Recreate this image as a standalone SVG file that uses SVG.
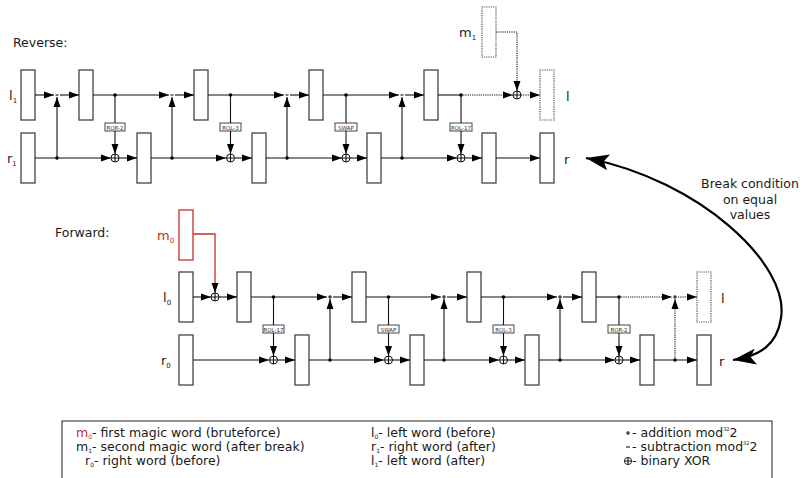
<svg xmlns="http://www.w3.org/2000/svg" width="803" height="478" viewBox="0 0 803 478">
<defs>
<marker id="a" markerUnits="userSpaceOnUse" markerWidth="10" markerHeight="8" refX="10" refY="4" orient="auto"><path d="M0,0.5 L10,4 L0,7.5 z" fill="#000"/></marker>
<marker id="big" markerUnits="userSpaceOnUse" markerWidth="24" markerHeight="16" refX="23" refY="8" orient="auto-start-reverse"><path d="M0,0 L23,8 L0,16 L5,8 z" fill="#000"/></marker>
<style>
.t{font-family:"DejaVu Sans",sans-serif;font-size:12.5px;fill:#1a1a1a}
.lbl{font-family:"DejaVu Sans",sans-serif;font-size:13px;fill:#1a1a1a}
.op{font-family:"DejaVu Sans",sans-serif;font-size:5.5px;fill:#333;text-anchor:middle}
.box{fill:#fff;stroke:#444;stroke-width:1.3}
.dbox{fill:#fff;stroke:#555;stroke-width:1.2;stroke-dasharray:1.2 1}
.obox{fill:#fff;stroke:#555;stroke-width:1.1}
.ln{fill:none;stroke:#111;stroke-width:1.1}
.dl{fill:none;stroke:#111;stroke-width:1.1;stroke-dasharray:1.2 1}
.arr{fill:none;stroke:#111;stroke-width:1.1;marker-end:url(#a)}
.darr{fill:none;stroke:#111;stroke-width:1.1;stroke-dasharray:1.2 1;marker-end:url(#a)}
.x{fill:#fff;stroke:#111;stroke-width:1}
.dot{fill:#000}
.red{fill:#c0302a}
.sub{font-size:7px}
.lsub{font-size:6px}
</style>
</defs>

<!-- Titles -->
<text class="t" x="13" y="47">Reverse:</text>
<text class="t" x="55" y="237">Forward:</text>

<!-- ===== Reverse nodes ===== -->
<g id="rev-l1"><rect class="box" x="21" y="70" width="14" height="50"/><text class="lbl" x="9" y="100">l<tspan class="sub" dy="3">1</tspan></text></g>
<g id="rev-r1"><rect class="box" x="21" y="133" width="14" height="50"/><text class="lbl" x="7" y="163">r<tspan class="sub" dy="3">1</tspan></text></g>
<g id="rev-l-a"><rect class="box" x="79" y="70" width="14" height="50"/></g>
<g id="rev-r-a"><rect class="box" x="137" y="133" width="14" height="50"/></g>
<g id="rev-l-b"><rect class="box" x="194" y="70" width="14" height="50"/></g>
<g id="rev-r-b"><rect class="box" x="252" y="133" width="14" height="50"/></g>
<g id="rev-l-c"><rect class="box" x="309" y="70" width="14" height="50"/></g>
<g id="rev-r-c"><rect class="box" x="367" y="133" width="14" height="50"/></g>
<g id="rev-l-d"><rect class="box" x="424" y="70" width="14" height="50"/></g>
<g id="rev-r-d"><rect class="box" x="482" y="133" width="14" height="50"/></g>
<g id="rev-l-out"><rect class="dbox" x="540" y="70" width="14" height="50"/><text class="lbl" x="566" y="101">l</text></g>
<g id="rev-r-out"><rect class="box" x="540" y="133" width="14" height="50"/><text class="lbl" x="564" y="164">r</text></g>
<g id="rev-m1"><rect class="dbox" x="482" y="7" width="14" height="50"/><text class="lbl" x="459" y="37">m<tspan class="sub" dy="3">1</tspan></text></g>

<g id="rev-op1"><rect class="obox" x="105" y="123" width="20" height="8"/><text class="op" x="115" y="129.5">ROR-2</text></g>
<g id="rev-op2"><rect class="obox" x="220" y="123" width="21" height="8"/><text class="op" x="230.5" y="129.5">ROL-3</text></g>
<g id="rev-op3"><rect class="obox" x="335" y="123" width="22" height="8"/><text class="op" x="346" y="129.5">SWAP</text></g>
<g id="rev-op4"><rect class="obox" x="450" y="123" width="22" height="8"/><text class="op" x="461" y="129.5">ROL-17</text></g>

<!-- ===== Forward nodes ===== -->
<g id="fwd-m0"><rect x="179" y="210" width="14" height="50" fill="#fff" stroke="#c0302a" stroke-width="1.3"/><text class="lbl red" x="157" y="240">m<tspan class="sub" dy="3">0</tspan></text></g>
<g id="fwd-l0"><rect class="box" x="179" y="272" width="14" height="50"/><text class="lbl" x="163" y="302">l<tspan class="sub" dy="3">0</tspan></text></g>
<g id="fwd-r0"><rect class="box" x="179" y="335" width="14" height="50"/><text class="lbl" x="161" y="365">r<tspan class="sub" dy="3">0</tspan></text></g>
<g id="fwd-l-a"><rect class="box" x="237" y="272" width="14" height="50"/></g>
<g id="fwd-r-a"><rect class="box" x="295" y="335" width="14" height="50"/></g>
<g id="fwd-l-b"><rect class="box" x="352" y="272" width="14" height="50"/></g>
<g id="fwd-r-b"><rect class="box" x="410" y="335" width="14" height="50"/></g>
<g id="fwd-l-c"><rect class="box" x="467" y="272" width="14" height="50"/></g>
<g id="fwd-r-c"><rect class="box" x="525" y="335" width="14" height="50"/></g>
<g id="fwd-l-d"><rect class="box" x="582" y="272" width="14" height="50"/></g>
<g id="fwd-r-d"><rect class="box" x="640" y="335" width="14" height="50"/></g>
<g id="fwd-l-out"><rect class="dbox" x="697" y="272" width="14" height="50"/><text class="lbl" x="721" y="303">l</text></g>
<g id="fwd-r-out"><rect class="box" x="697" y="335" width="14" height="50"/><text class="lbl" x="719" y="366">r</text></g>

<g id="fwd-op1"><rect class="obox" x="263" y="325" width="21" height="8"/><text class="op" x="273.5" y="331.5">ROL-17</text></g>
<g id="fwd-op2"><rect class="obox" x="378" y="325" width="21" height="8"/><text class="op" x="388.5" y="331.5">SWAP</text></g>
<g id="fwd-op3"><rect class="obox" x="493" y="325" width="21" height="8"/><text class="op" x="503.5" y="331.5">ROL-3</text></g>
<g id="fwd-op4"><rect class="obox" x="608" y="325" width="22" height="8"/><text class="op" x="619" y="331.5">ROR-2</text></g>

<!-- ===== Connectors ===== -->
<g id="connectors">
<!-- Reverse l row -->
<line class="arr" x1="35" y1="95" x2="54" y2="95"/>
<line class="ln" x1="55.5" y1="95" x2="58.5" y2="95"/>
<line class="arr" x1="60" y1="95" x2="79" y2="95"/>
<line class="arr" x1="93" y1="95" x2="169" y2="95"/>
<line class="ln" x1="170.5" y1="95" x2="173.5" y2="95"/>
<line class="arr" x1="175" y1="95" x2="194" y2="95"/>
<line class="arr" x1="208" y1="95" x2="284" y2="95"/>
<line class="ln" x1="285.5" y1="95" x2="288.5" y2="95"/>
<line class="arr" x1="290" y1="95" x2="309" y2="95"/>
<line class="arr" x1="323" y1="95" x2="399" y2="95"/>
<line class="ln" x1="400.5" y1="95" x2="403.5" y2="95"/>
<line class="arr" x1="405" y1="95" x2="424" y2="95"/>
<line class="ln" x1="438" y1="95" x2="461" y2="95"/>
<line class="darr" x1="461" y1="95" x2="513" y2="95"/>
<line class="darr" x1="521" y1="95" x2="540" y2="95"/>
<polyline class="dl" points="496,32 517,32 517,82"/>
<line class="arr" x1="517" y1="82" x2="517" y2="91"/>
<!-- Reverse r row -->
<line class="arr" x1="35" y1="158" x2="111" y2="158"/>
<line class="arr" x1="119" y1="158" x2="137" y2="158"/>
<line class="arr" x1="151" y1="158" x2="226" y2="158"/>
<line class="arr" x1="234" y1="158" x2="252" y2="158"/>
<line class="arr" x1="266" y1="158" x2="342" y2="158"/>
<line class="arr" x1="350" y1="158" x2="367" y2="158"/>
<line class="arr" x1="381" y1="158" x2="457" y2="158"/>
<line class="arr" x1="465" y1="158" x2="482" y2="158"/>
<line class="arr" x1="496" y1="158" x2="540" y2="158"/>
<!-- Reverse verticals -->
<line class="arr" x1="57" y1="158" x2="57" y2="97"/>
<line class="arr" x1="172" y1="158" x2="172" y2="97"/>
<line class="arr" x1="287" y1="158" x2="287" y2="97"/>
<line class="arr" x1="402" y1="158" x2="402" y2="97"/>
<line class="ln" x1="115" y1="95" x2="115" y2="123"/><line class="arr" x1="115" y1="131" x2="115" y2="154"/>
<line class="ln" x1="230.5" y1="95" x2="230.5" y2="123"/><line class="arr" x1="230.5" y1="131" x2="230.5" y2="154"/>
<line class="ln" x1="346" y1="95" x2="346" y2="123"/><line class="arr" x1="346" y1="131" x2="346" y2="154"/>
<line class="ln" x1="461" y1="95" x2="461" y2="123"/><line class="arr" x1="461" y1="131" x2="461" y2="154"/>
<g class="dot"><circle cx="57" cy="158" r="1.8"/><circle cx="172" cy="158" r="1.8"/><circle cx="287" cy="158" r="1.8"/><circle cx="402" cy="158" r="1.8"/>
<circle cx="115" cy="95" r="1.8"/><circle cx="230.5" cy="95" r="1.8"/><circle cx="346" cy="95" r="1.8"/><circle cx="461" cy="95" r="1.8"/></g>
<g><circle class="x" cx="115" cy="158" r="4"/><path class="ln" d="M111,158h8M115,154v8"/>
<circle class="x" cx="230.5" cy="158" r="4"/><path class="ln" d="M226.5,158h8M230.5,154v8"/>
<circle class="x" cx="346" cy="158" r="4"/><path class="ln" d="M342,158h8M346,154v8"/>
<circle class="x" cx="461" cy="158" r="4"/><path class="ln" d="M457,158h8M461,154v8"/>
<circle class="x" cx="517" cy="95" r="4"/><path class="ln" d="M513,95h8M517,91v8"/></g>

<!-- Forward l row -->
<polyline points="193,234 215,234 215,284" fill="none" stroke="#c0302a" stroke-width="1.3"/>
<line class="arr" x1="215" y1="284" x2="215" y2="293"/>
<line class="arr" x1="193" y1="297" x2="211" y2="297"/>
<line class="arr" x1="219" y1="297" x2="237" y2="297"/>
<line class="arr" x1="251" y1="297" x2="327" y2="297"/>
<line class="arr" x1="333" y1="297" x2="352" y2="297"/>
<line class="arr" x1="366" y1="297" x2="441" y2="297"/>
<line class="arr" x1="447" y1="297" x2="467" y2="297"/>
<line class="arr" x1="481" y1="297" x2="557" y2="297"/>
<line class="arr" x1="563" y1="297" x2="582" y2="297"/>
<line class="ln" x1="596" y1="297" x2="619" y2="297"/>
<line class="darr" x1="619" y1="297" x2="672" y2="297"/>
<line class="darr" x1="678" y1="297" x2="697" y2="297"/>
<!-- Forward r row -->
<line class="arr" x1="193" y1="360" x2="269" y2="360"/>
<line class="arr" x1="277" y1="360" x2="295" y2="360"/>
<line class="arr" x1="309" y1="360" x2="384" y2="360"/>
<line class="arr" x1="392" y1="360" x2="410" y2="360"/>
<line class="arr" x1="424" y1="360" x2="499" y2="360"/>
<line class="arr" x1="507" y1="360" x2="525" y2="360"/>
<line class="arr" x1="539" y1="360" x2="615" y2="360"/>
<line class="arr" x1="623" y1="360" x2="640" y2="360"/>
<line class="arr" x1="654" y1="360" x2="697" y2="360"/>
<!-- Forward verticals -->
<line class="arr" x1="330" y1="360" x2="330" y2="299"/>
<line class="arr" x1="444" y1="360" x2="444" y2="299"/>
<line class="arr" x1="560" y1="360" x2="560" y2="299"/>
<line class="darr" x1="675" y1="360" x2="675" y2="299"/>
<line class="ln" x1="273.5" y1="297" x2="273.5" y2="325"/><line class="arr" x1="273.5" y1="333" x2="273.5" y2="356"/>
<line class="ln" x1="388.5" y1="297" x2="388.5" y2="325"/><line class="arr" x1="388.5" y1="333" x2="388.5" y2="356"/>
<line class="ln" x1="503.5" y1="297" x2="503.5" y2="325"/><line class="arr" x1="503.5" y1="333" x2="503.5" y2="356"/>
<line class="ln" x1="619" y1="297" x2="619" y2="325"/><line class="arr" x1="619" y1="333" x2="619" y2="356"/>
<g class="dot"><circle cx="330" cy="360" r="1.8"/><circle cx="444" cy="360" r="1.8"/><circle cx="560" cy="360" r="1.8"/><circle cx="675" cy="360" r="1.8"/>
<circle cx="273.5" cy="297" r="1.8"/><circle cx="388.5" cy="297" r="1.8"/><circle cx="503.5" cy="297" r="1.8"/><circle cx="619" cy="297" r="1.8"/></g>
<!-- plus junctions -->
<path class="ln" d="M328,297h4M330,295v4 M442,297h4M444,295v4 M558,297h4M560,295v4 M673,297h4M675,295v4"/>
<g><circle class="x" cx="215" cy="297" r="4"/><path class="ln" d="M211,297h8M215,293v8"/>
<circle class="x" cx="273.5" cy="360" r="4"/><path class="ln" d="M269.5,360h8M273.5,356v8"/>
<circle class="x" cx="388.5" cy="360" r="4"/><path class="ln" d="M384.5,360h8M388.5,356v8"/>
<circle class="x" cx="503.5" cy="360" r="4"/><path class="ln" d="M499.5,360h8M503.5,356v8"/>
<circle class="x" cx="619" cy="360" r="4"/><path class="ln" d="M615,360h8M619,356v8"/></g>

<!-- Break condition arrow -->
<path d="M586,158 C700,180 790,265 781,318 C777,345 760,356 733,360" fill="none" stroke="#000" stroke-width="2.2" marker-start="url(#big)" marker-end="url(#big)"/>
</g>
<text class="t" text-anchor="middle" x="750" y="188">Break condition</text>
<text class="t" text-anchor="middle" x="750" y="204">on equal</text>
<text class="t" text-anchor="middle" x="750" y="219">values</text>

<!-- Legend -->
<g id="legend">
<rect x="62" y="421" width="710" height="60" fill="#fff" stroke="#222" stroke-width="1"/>
<text class="t" x="76" y="437"><tspan fill="#c0302a">m<tspan class="lsub" dy="2">0</tspan></tspan><tspan dy="-2">- first magic word (bruteforce)</tspan></text>
<text class="t" x="76" y="451">m<tspan class="lsub" dy="2">1</tspan><tspan dy="-2">- second magic word (after break)</tspan></text>
<text class="t" x="85" y="465">r<tspan class="lsub" dy="2">0</tspan><tspan dy="-2">- right word (before)</tspan></text>
<text class="t" x="371" y="437">l<tspan class="lsub" dy="2">0</tspan><tspan dy="-2">- left word (before)</tspan></text>
<text class="t" x="371" y="451">r<tspan class="lsub" dy="2">1</tspan><tspan dy="-2">- right word (after)</tspan></text>
<text class="t" x="371" y="465">l<tspan class="lsub" dy="2">1</tspan><tspan dy="-2">- left word (after)</tspan></text>
<path class="ln" d="M626,433h4M628,431v4"/>
<text class="t" x="632" y="437">- addition mod<tspan font-size="5" dy="-6">32</tspan><tspan dy="6">2</tspan></text>
<path class="ln" d="M626,447h4"/>
<text class="t" x="632" y="451">- subtraction mod<tspan font-size="5" dy="-6">32</tspan><tspan dy="6">2</tspan></text>
<circle cx="628" cy="461" r="3.6" fill="none" stroke="#111" stroke-width="0.9"/><path class="ln" d="M624.4,461h7.2M628,457.4v7.2" stroke-width="0.9"/>
<text class="t" x="632" y="465">- binary XOR</text>
</g>
</svg>
